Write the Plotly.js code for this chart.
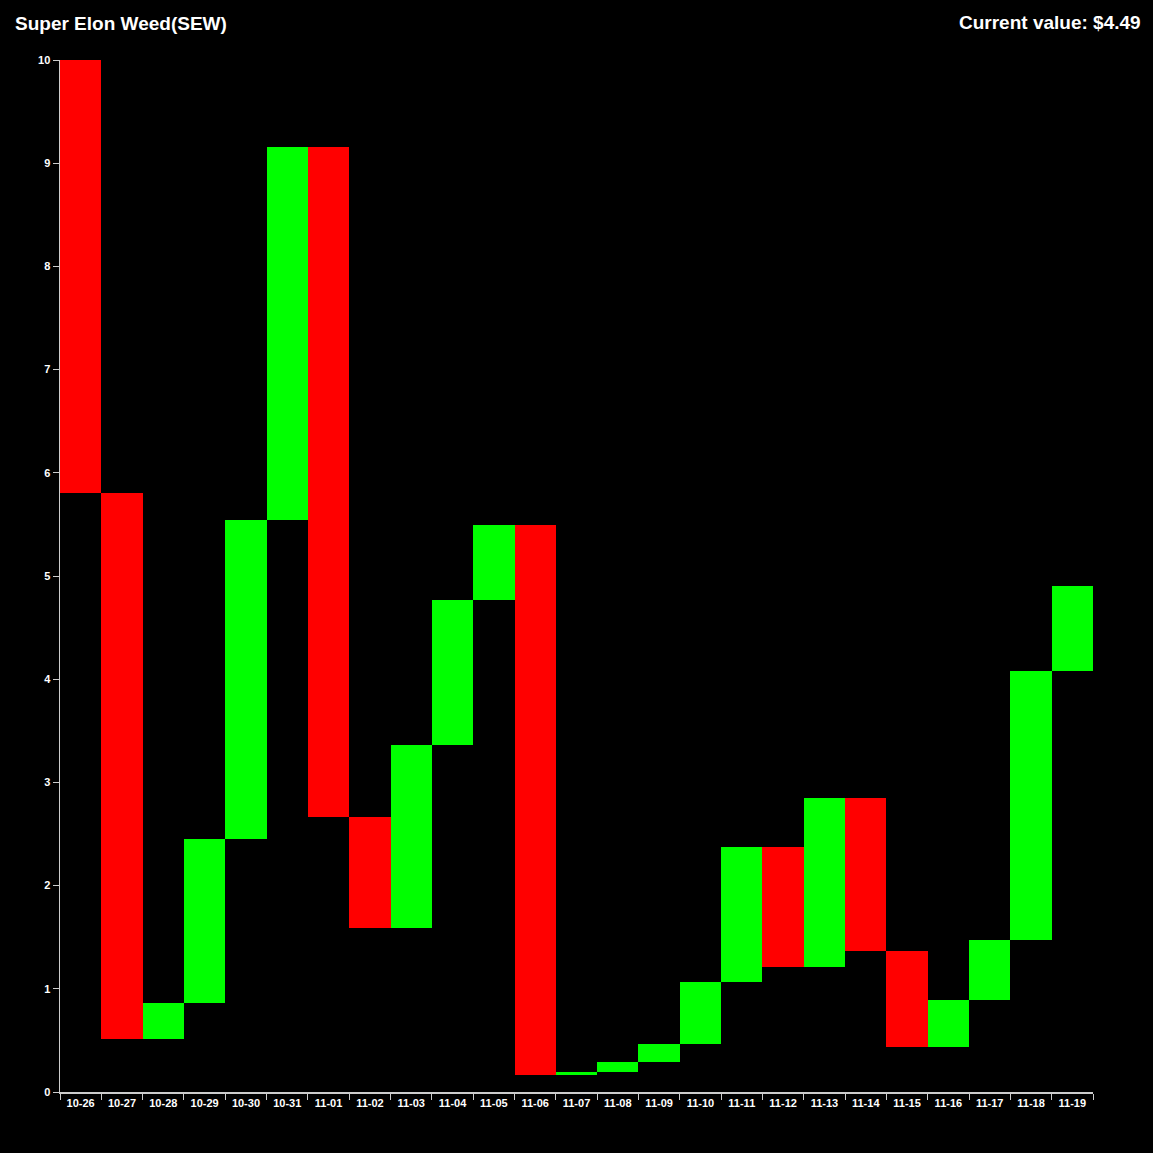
<!DOCTYPE html>
<html>
<head>
<meta charset="utf-8">
<script src="https://cdn.plot.ly/plotly-3.0.1.min.js"></script>
<style>html,body{margin:0;padding:0;background:#000;}#chart{width:1153px;height:1153px;}</style>
</head>
<body>
<div id="chart"></div>
<script>
const dates = ["10-26","10-27","10-28","10-29","10-30","10-31","11-01","11-02","11-03","11-04","11-05","11-06","11-07","11-08","11-09","11-10","11-11","11-12","11-13","11-14","11-15","11-16","11-17","11-18","11-19"];
const openValues  = [10.00,5.80,0.51,0.86,2.45,5.54,9.16,2.66,1.59,3.36,4.77,5.49,0.16,0.19,0.29,0.47,1.07,2.37,1.21,2.85,1.37,0.44,0.89,1.47,4.08];
const closeValues = [5.80,0.51,0.86,2.45,5.54,9.16,2.66,1.59,3.36,4.77,5.49,0.16,0.19,0.29,0.47,1.07,2.37,1.21,2.85,1.37,0.44,0.89,1.47,4.08,4.90];
const titleText = "Super Elon Weed(SEW)";
const currentValue = "Current value: $4.49";
const upColor = "#00ff00", downColor = "#ff0000";

const base = openValues.map((o,i)=>Math.min(o,closeValues[i]));
const heights = openValues.map((o,i)=>Math.abs(closeValues[i]-o));
const colors = openValues.map((o,i)=> closeValues[i] >= o ? upColor : downColor);

const fontFam = "Liberation Sans, Arial, sans-serif";
Plotly.newPlot("chart", [{
  type: "bar",
  x: dates,
  y: heights,
  base: base,
  width: 1,
  marker: {color: colors, line: {width: 0}},
  hoverinfo: "skip"
}], {
  width: 1153, height: 1153,
  paper_bgcolor: "#000", plot_bgcolor: "#000",
  margin: {l: 60, r: 60, t: 60, b: 61},
  showlegend: false,
  bargap: 0,
  title: {text: titleText, x: 15/1153, xanchor: "left", xref: "container", y: 1 - 23/1153, yanchor: "middle", yref: "container",
          font: {family: fontFam, size: 19, color: "#fff", weight: 700}},
  annotations: [{
    text: currentValue, xref: "paper", yref: "paper",
    x: (1143-60)/1033, xanchor: "right", y: (1092-23)/1032, yanchor: "middle",
    showarrow: false, font: {family: fontFam, size: 19, color: "#fff", weight: 700}
  }],
  xaxis: {
    type: "category", tickson: "boundaries", ticks: "outside", ticklen: 6, tickcolor: "#ccc",
    showline: true, linecolor: "#ccc", linewidth: 1.5, showgrid: false, zeroline: false,
    tickfont: {family: fontFam, size: 11, color: "#fff", weight: 700}, fixedrange: true
  },
  yaxis: {
    range: [0, 10], dtick: 1, ticks: "outside", ticklen: 6, tickcolor: "#ccc",
    showline: true, linecolor: "#ccc", linewidth: 1.5, showgrid: false, zeroline: false,
    tickfont: {family: fontFam, size: 11, color: "#fff", weight: 700}, fixedrange: true
  }
}, {displayModeBar: false, staticPlot: true});
</script>
</body>
</html>
